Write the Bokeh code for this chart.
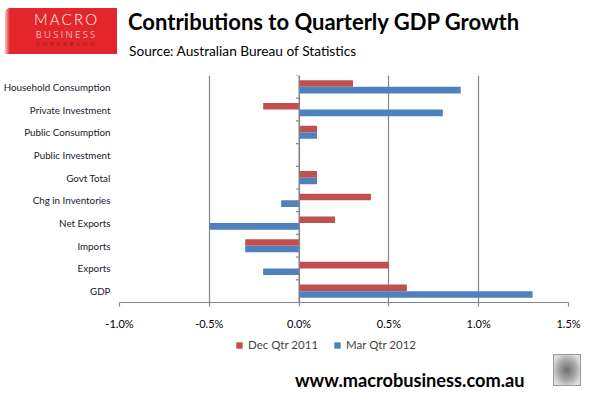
from bokeh.plotting import figure
from bokeh.layouts import column
from bokeh.models import (FixedTicker, PrintfTickFormatter, Span, Legend, LegendItem,
                          ColumnDataSource, Div)
from bokeh.embed import file_html
from bokeh.resources import INLINE

categories = ["Household Consumption", "Private Investment", "Public Consumption",
              "Public Investment", "Govt Total", "Chg in Inventories", "Net Exports",
              "Imports", "Exports", "GDP"]
dec_qtr_2011 = [0.3, -0.2, 0.1, 0.0, 0.1, 0.4, 0.2, -0.3, 0.5, 0.6]
mar_qtr_2012 = [0.9, 0.8, 0.1, 0.0, 0.1, -0.1, -0.5, -0.3, -0.2, 1.3]
x_ticks = [-1.0, -0.5, 0.0, 0.5, 1.0, 1.5]
series_names = ["Dec Qtr 2011", "Mar Qtr 2012"]
title_text = "Contributions to Quarterly GDP Growth"
subtitle_text = "Source: Australian Bureau of Statistics"
footer_text = "www.macrobusiness.com.au"

RED = "#C0504D"
BLUE = "#4F81BD"
GRID = "#868686"
FONT = "Lato"
W = 580

# ---------- header ----------
header_html = f"""
<div style="position:relative;width:{W}px;height:64px;font-family:Lato,sans-serif;color:black;">
  <div style="position:absolute;left:5px;top:8px;width:112px;height:46px;
       background:linear-gradient(to right,#f6c4c6 0px,#E4252B 5px,#E4252B 100%);
       border-top-left-radius:5px;"></div>
  <div style="position:absolute;left:8px;top:12px;width:115px;text-align:center;color:white;
       font-family:Lato,sans-serif;font-weight:300;font-size:15px;letter-spacing:2.2px;line-height:15px;
       padding-left:2.2px;box-sizing:border-box;">MACRO</div>
  <div style="position:absolute;left:8px;top:30px;width:115px;text-align:center;color:white;
       font-family:Lato,sans-serif;font-weight:300;font-size:9.5px;letter-spacing:2.3px;line-height:10px;
       padding-left:2.3px;box-sizing:border-box;">BUSINESS</div>
  <div style="position:absolute;left:8px;top:41px;width:115px;text-align:center;color:#9B1B1F;
       font-family:Lato,sans-serif;font-size:6px;letter-spacing:3px;line-height:6px;
       padding-left:3px;box-sizing:border-box;">SUPERBLOG</div>
  <div style="position:absolute;left:128px;top:9px;font-size:22px;font-weight:bold;
       line-height:26px;white-space:nowrap;">{title_text}</div>
  <div style="position:absolute;left:129px;top:42px;font-size:13.7px;line-height:18px;
       white-space:nowrap;">{subtitle_text}</div>
</div>
"""
hdr = Div(text=header_html, width=W, height=64, margin=0)

# ---------- main chart ----------
n = len(categories)
ypos = [n - 1 - i for i in range(n)]

p = figure(frame_width=449, frame_height=227, output_backend="svg", toolbar_location=None,
           x_range=(x_ticks[0], x_ticks[-1]), y_range=(-0.5, n - 0.5),
           min_border_left=118, min_border_right=13, min_border_top=11, min_border_bottom=28)
p.outline_line_color = None

src = ColumnDataSource(dict(y=ypos, dec=dec_qtr_2011, mar=mar_qtr_2012,
                            yr=[v + 0.145 for v in ypos], yb=[v - 0.145 for v in ypos]))
r1 = p.hbar(y="yr", left=0, right="dec", height=0.29, source=src, fill_color=RED, line_color=None)
r2 = p.hbar(y="yb", left=0, right="mar", height=0.29, source=src, fill_color=BLUE, line_color=None)

p.add_layout(Span(location=0, dimension="height", line_color=GRID, line_width=1.2))
bounds = [i - 0.5 for i in range(n + 1)]
p.segment(x0=[-0.018] * len(bounds), x1=[0] * len(bounds), y0=bounds, y1=bounds,
          line_color=GRID, line_width=1.2)

p.xaxis.ticker = FixedTicker(ticks=x_ticks)
p.xaxis.formatter = PrintfTickFormatter(format="%.1f%%")
p.xaxis.axis_line_color = GRID
p.xaxis.axis_line_width = 1.2
p.xaxis.major_tick_line_color = GRID
p.xaxis.major_tick_line_width = 1.2
p.xaxis.major_tick_out = 4
p.xaxis.major_tick_in = 0
p.xaxis.minor_tick_line_color = None
p.xaxis.minor_tick_out = 0
p.xaxis.major_label_text_font = FONT
p.xaxis.major_label_text_font_size = "11px"
p.xaxis.major_label_text_color = "black"
p.xaxis.major_label_standoff = 10

p.xgrid.ticker = FixedTicker(ticks=x_ticks)
p.xgrid.grid_line_color = GRID
p.xgrid.grid_line_width = 1.2
p.ygrid.grid_line_color = None

p.yaxis.ticker = FixedTicker(ticks=ypos)
p.yaxis.major_label_overrides = {y: c for y, c in zip(ypos, categories)}
p.yaxis.axis_line_color = None
p.yaxis.major_tick_line_color = None
p.yaxis.major_tick_out = 0
p.yaxis.major_tick_in = 0
p.yaxis.minor_tick_line_color = None
p.yaxis.minor_tick_out = 0
p.yaxis.major_label_text_font = FONT
p.yaxis.major_label_text_font_size = "9.8px"
p.yaxis.major_label_text_color = "#1a1a2a"
p.yaxis.major_label_standoff = 9

# ---------- legend strip ----------
lg = figure(width=W, height=22, output_backend="svg", toolbar_location=None,
            x_range=(0, 1), y_range=(0, 1), min_border=0)
lg.axis.visible = False
lg.grid.visible = False
lg.outline_line_color = None
l1 = lg.hbar(y="yr", left=0, right="dec", height=0.29, source=src, fill_color=RED,
             line_color=None, visible=False)
l2 = lg.hbar(y="yb", left=0, right="mar", height=0.29, source=src, fill_color=BLUE,
             line_color=None, visible=False)
legend = Legend(items=[LegendItem(label=series_names[0], renderers=[l1]),
                       LegendItem(label=series_names[1], renderers=[l2])],
                orientation="horizontal", location=(116, 3),
                label_text_font=FONT, label_text_font_size="11.5px",
                glyph_width=8, glyph_height=8, spacing=15, label_standoff=5,
                label_height=12, inactive_fill_alpha=0,
                border_line_color=None, background_fill_alpha=0, margin=0, padding=2)
lg.add_layout(legend, "center")

# ---------- footer ----------
footer_html = f"""
<div style="position:relative;width:{W}px;height:40px;font-family:Lato,sans-serif;color:black;">
  <div style="position:absolute;left:295px;top:17px;font-size:18.2px;font-weight:bold;
       line-height:18px;white-space:nowrap;">{footer_text}</div>
  <div style="position:absolute;left:553px;top:0px;width:28px;height:32px;
       border:1.5px solid #9a9a9a;background:radial-gradient(ellipse at 50% 50%,#6f6f6f 0px,#a9a9a9 9px,#dcdcdc 15px);"></div>
</div>
"""
ftr = Div(text=footer_html, width=W, height=40, margin=0)

layout = column(hdr, p, lg, ftr, spacing=0)
open("out.html", "w").write(file_html(layout, INLINE))
